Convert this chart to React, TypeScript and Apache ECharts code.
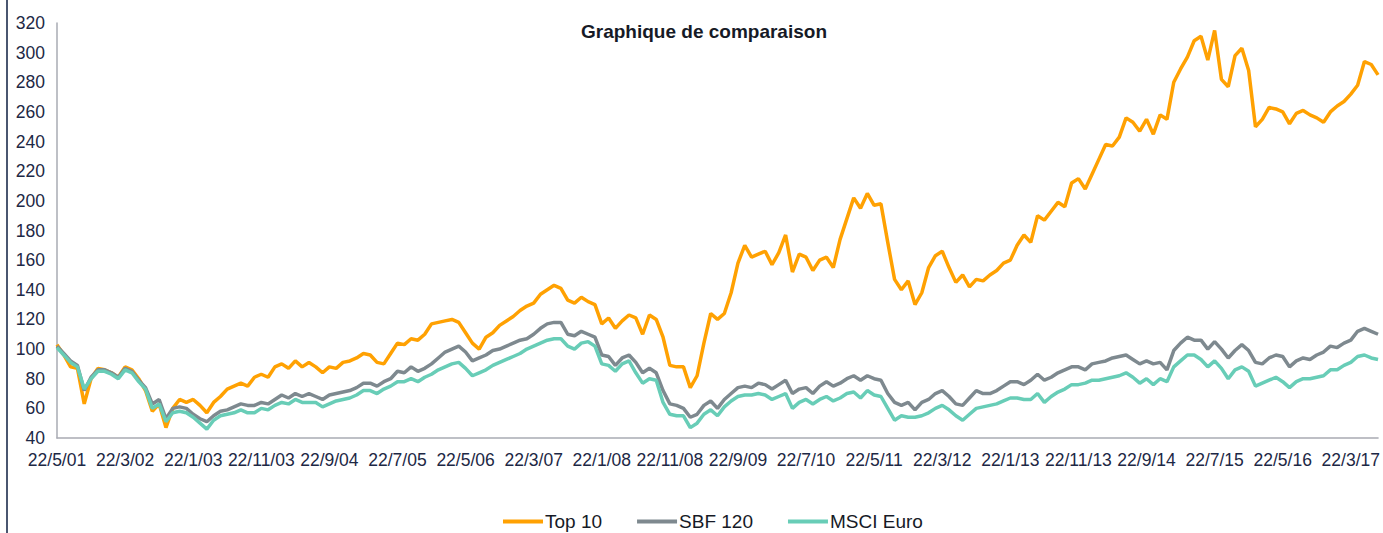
import React, { useEffect, useRef } from "react";
import * as echarts from "echarts";

// Monthly observation dates (22nd of each month), May 2001 -> July 2017
const categories: string[] = [];
for (let i = 0; i < 195; i++) {
  const m = ((4 + i) % 12) + 1;
  const y = 2001 + Math.floor((4 + i) / 12);
  categories.push(`22/${m}/${String(y % 100).padStart(2, "0")}`);
}

const top10 = [
  103, 96, 88, 87, 63, 80, 87, 86, 84, 81,
  88, 86, 80, 72, 58, 63, 47, 60, 66, 64,
  66, 62, 57, 64, 68, 73, 75, 77, 75, 81,
  83, 81, 88, 90, 87, 92, 88, 91, 88, 84,
  88, 87, 91, 92, 94, 97, 96, 91, 90, 97,
  104, 103, 107, 106, 110, 117, 118, 119, 120, 118,
  111, 104, 100, 108, 111, 116, 119, 122, 126, 129,
  131, 137, 140, 143, 141, 133, 131, 135, 132, 130,
  117, 121, 114, 119, 123, 121, 110, 123, 120, 108,
  89, 88, 88, 74, 82, 104, 124, 120, 124, 138,
  158, 170, 162, 164, 166, 157, 165, 177, 152, 164,
  162, 153, 160, 162, 155, 174, 188, 202, 195, 205,
  197, 198, 172, 147, 140, 146, 130, 138, 155, 163,
  166, 155, 145, 150, 142, 147, 146, 150, 153, 158,
  160, 170, 177, 172, 190, 187, 193, 199, 196, 212,
  215, 208, 218, 228, 238, 237, 243, 256, 253, 247,
  255, 245, 258, 255, 280, 289, 297, 308, 311, 295,
  315, 282, 277, 298, 303, 288, 250, 255, 263, 262,
  260, 252, 259, 261, 258, 256, 253, 260, 264, 267,
  272, 278, 294, 292, 285,
];

const sbf120 = [
  102, 97, 92, 89, 72, 81, 86, 86, 84, 81,
  87, 85, 79, 74, 63, 66, 53, 60, 61, 60,
  56, 53, 51, 55, 58, 59, 61, 63, 62, 62,
  64, 63, 66, 69, 67, 70, 68, 70, 68, 66,
  69, 70, 71, 72, 74, 77, 77, 75, 78, 80,
  85, 84, 88, 85, 87, 90, 94, 98, 100, 102,
  98, 92, 94, 96, 99, 100, 102, 104, 106, 107,
  110, 114, 117, 118, 118, 110, 109, 112, 110, 108,
  96, 95, 89, 94, 96, 91, 84, 87, 84, 72,
  63, 62, 60, 54, 56, 62, 65, 60, 66, 70,
  74, 75, 74, 77, 76, 73, 76, 79, 70, 73,
  74, 70, 75, 78, 75, 77, 80, 82, 79, 82,
  80, 79, 70, 64, 62, 64, 59, 64, 66, 70,
  72, 68, 63, 62, 67, 72, 70, 70, 72, 75,
  78, 78, 76, 79, 83, 79, 81, 84, 86, 88,
  88, 86, 90, 91, 92, 94, 95, 96, 93, 90,
  92, 90, 91, 86, 99, 104, 108, 106, 106, 100,
  105, 100, 94, 99, 103, 99, 91, 90, 94, 96,
  95, 88, 92, 94, 93, 96, 98, 102, 101, 104,
  106, 112, 114, 112, 110,
];

const msciEuro = [
  101, 96, 91, 88, 73, 80, 85, 85, 83, 80,
  86, 84, 78, 73, 60, 63, 51, 57, 58, 57,
  54, 50, 46, 52, 55, 56, 57, 59, 57, 57,
  60, 59, 62, 64, 63, 66, 64, 64, 64, 61,
  63, 65, 66, 67, 69, 72, 72, 70, 73, 75,
  78, 78, 80, 78, 81, 83, 86, 88, 90, 91,
  87, 82, 84, 86, 89, 91, 93, 95, 97, 100,
  102, 104, 106, 107, 107, 102, 100, 104, 105, 102,
  90, 89, 85, 90, 92, 84, 77, 80, 79, 64,
  56, 55, 55, 47, 50, 56, 59, 55, 61, 65,
  68, 69, 69, 70, 69, 66, 68, 70, 60, 64,
  66, 63, 66, 68, 65, 67, 70, 71, 67, 72,
  69, 68, 60, 52, 55, 54, 54, 55, 57, 60,
  62, 59, 55, 52, 56, 60, 61, 62, 63, 65,
  67, 67, 66, 66, 70, 64, 68, 71, 73, 76,
  76, 77, 79, 79, 80, 81, 82, 84, 81, 77,
  80, 76, 80, 78, 88, 92, 96, 96, 93, 88,
  92, 87, 80, 86, 88, 85, 75, 77, 79, 81,
  78, 74, 78, 80, 80, 81, 82, 86, 86, 89,
  91, 95, 96, 94, 93,
];

const seriesNames = ["Top 10", "SBF 120", "MSCI Euro"];
const seriesColors = ["#FFA102", "#7E898F", "#68CDB7"];

export default function App() {
  const ref = useRef<HTMLDivElement>(null);
  useEffect(() => {
    if (!ref.current) return;
    const chart = echarts.init(ref.current, undefined, { renderer: "svg" });
    const font = "'Liberation Sans', Arial, sans-serif";
    const datasets = [top10, sbf120, msciEuro];
    chart.setOption({
      animation: false,
      backgroundColor: "#ffffff",
      title: {
        text: "Graphique de comparaison",
        left: 699,
        top: 17,
        textAlign: "center",
        textStyle: { fontFamily: font, fontSize: 19, fontWeight: "bold", color: "#161a26" },
      },
      graphic: [
        {
          type: "rect",
          left: 6,
          top: 0,
          shape: { width: 2, height: 533 },
          style: { fill: "#4a5670" },
        },
      ],
      legend: {
        left: 503,
        top: 512,
        padding: 0,
        icon: "rect",
        itemWidth: 40,
        itemHeight: 4,
        itemGap: 35,
        textStyle: {
          fontFamily: font,
          fontSize: 19,
          lineHeight: 19,
          color: "#161a26",
          padding: [0, 0, 0, -3],
        },
        data: seriesNames,
      },
      grid: { left: 57, right: 0, top: 23, bottom: 95, containLabel: false },
      xAxis: {
        type: "category",
        data: categories,
        boundaryGap: false,
        axisLine: { lineStyle: { color: "#A9ABB3", width: 1.5 } },
        axisTick: { show: false },
        axisLabel: {
          interval: (index: number) => index % 10 === 0,
          margin: 13,
          fontFamily: font,
          fontSize: 17.5,
          color: "#1d2845",
          hideOverlap: false,
        },
        splitLine: { show: false },
      },
      yAxis: {
        type: "value",
        min: 40,
        max: 320,
        interval: 20,
        axisLine: { show: true, lineStyle: { color: "#A9ABB3", width: 1.5 } },
        axisTick: { show: false },
        axisLabel: { margin: 12, fontFamily: font, fontSize: 17.5, color: "#1d2845" },
        splitLine: { show: false },
      },
      series: datasets.map((d, k) => ({
        name: seriesNames[k],
        type: "line",
        data: d,
        symbol: "none",
        color: seriesColors[k],
        lineStyle: { width: 3.5, color: seriesColors[k] },
        z: 2 + k,
      })),
    });
    return () => chart.dispose();
  }, []);
  return (
    <div
      ref={ref}
      style={{ position: "absolute", left: 0, top: 0, width: 1383, height: 533 }}
    />
  );
}
